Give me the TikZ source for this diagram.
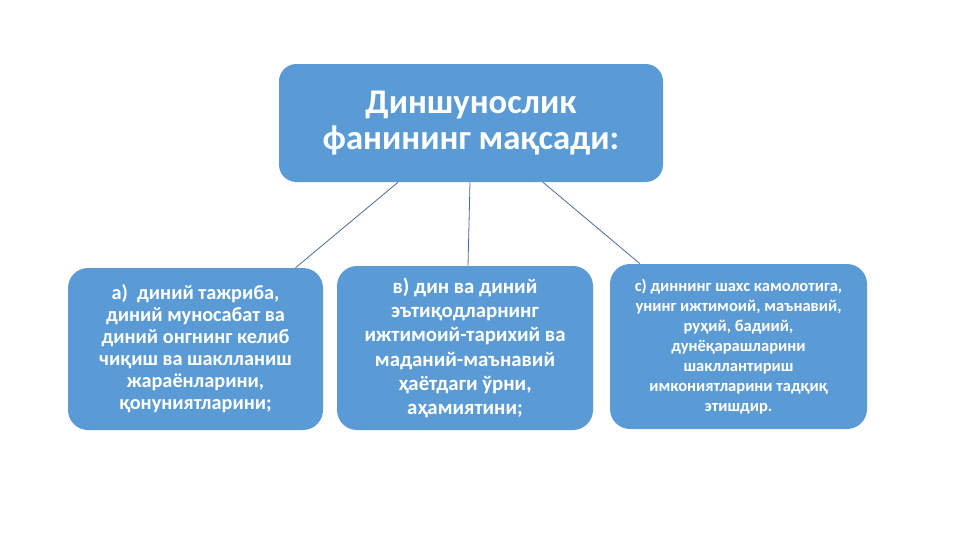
\documentclass[tikz,border=0pt]{standalone}
\usepackage{fontspec}
\setmainfont{Carlito}
\usetikzlibrary{calc}

\definecolor{boxblue}{HTML}{5B9BD5}
\definecolor{linkblue}{HTML}{4A6A9C}

\tikzset{
  goalbox/.style={fill=boxblue, rounded corners=15pt, text=white,
    align=center, font=\bfseries},
  link/.style={draw=linkblue, line width=0.6pt}
}

\begin{document}
\begin{tikzpicture}[x=0.75pt, y=0.75pt]
	  \useasboundingbox (0,0) rectangle (961,-540);

	  \node[goalbox, rounded corners=13pt, minimum width=288pt, minimum height=88.5pt,
	    font=\bfseries\fontsize{26}{27}\selectfont] (aim) at (471,-123)
	    {Диншунослик\\фанининг мақсади:};

	  \node[goalbox, minimum width=191.25pt, minimum height=121.5pt,
	    font=\bfseries\fontsize{15.2}{16.5}\selectfont] (a) at (195.5,-349)
	    {а)\ \ диний тажриба,\\диний муносабат ва\\диний онгнинг келиб\\чиқиш ва шаклланиш\\жараёнларини,\\қонуниятларини;};
	  \node[goalbox, minimum width=192pt, minimum height=123pt,
	    font=\bfseries\fontsize{15.6}{18.2}\selectfont] (b) at (465,-348)
	    {в) дин ва диний\\эътиқодларнинг\\ижтимоий-тарихий ва\\маданий-маънавий\\ҳаётдаги ўрни,\\аҳамиятини;};
	  \node[goalbox, minimum width=192.75pt, minimum height=123.75pt,
	    font=\bfseries\fontsize{12.4}{15}\selectfont] (c) at (738.5,-346.5)
	    {с) диннинг шахс камолотига,\\унинг ижтимоий, маънавий,\\руҳий, бадиий,\\дунёқарашларини\\шакллантириш\\имкониятларини тадқиқ\\этишдир.};

	  \draw[link] ($(aim.south)+(-73,0)$) -- ($(a.north)+(100,0)$);
	  \draw[link] ($(aim.south)+(-1,0)$) -- ($(b.north)+(3,0)$);
	  \draw[link] ($(aim.south)+(72,0)$) -- ($(c.north)+(-98.5,0)$);
	\end{tikzpicture}
\end{document}
